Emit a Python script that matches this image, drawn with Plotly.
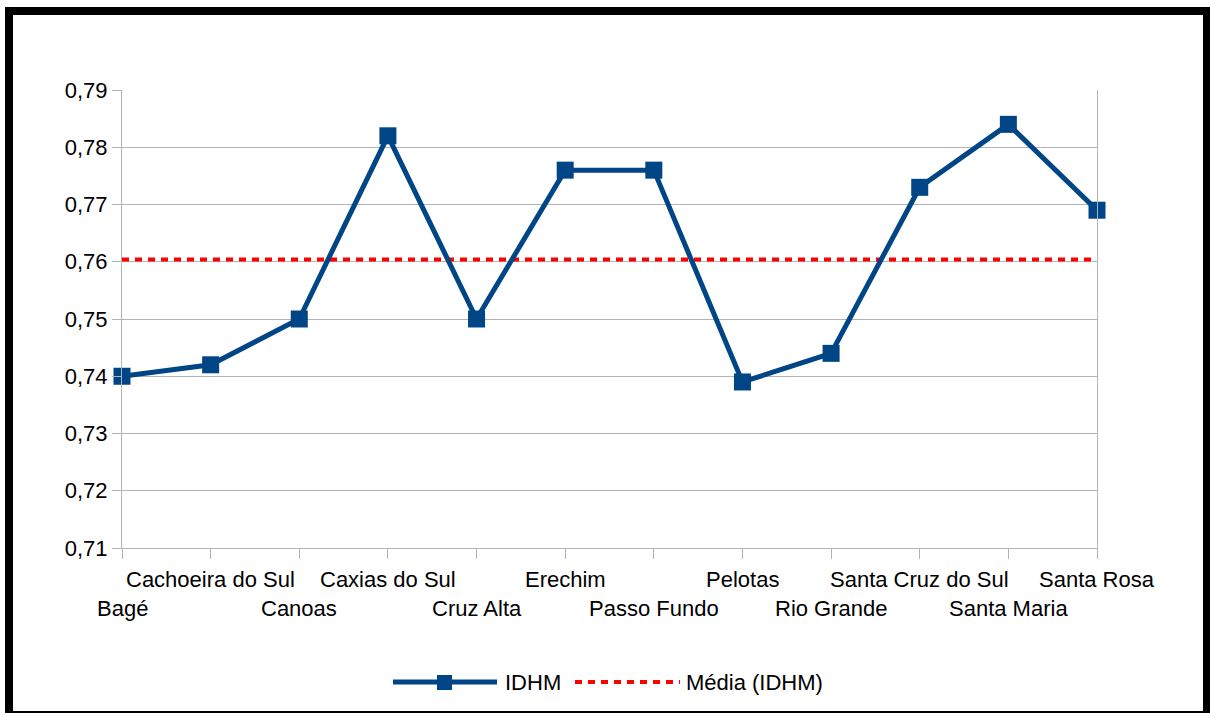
import plotly.graph_objects as go

categories = ["Bagé", "Cachoeira do Sul", "Canoas", "Caxias do Sul", "Cruz Alta",
              "Erechim", "Passo Fundo", "Pelotas", "Rio Grande",
              "Santa Cruz do Sul", "Santa Maria", "Santa Rosa"]
idhm = [0.740, 0.742, 0.750, 0.782, 0.750, 0.776, 0.776, 0.739, 0.744, 0.773, 0.784, 0.769]
media_idhm = 0.7604
y_ticks = [0.71, 0.72, 0.73, 0.74, 0.75, 0.76, 0.77, 0.78, 0.79]

W, H = 1210, 713
L, R, T, B = 122, 113, 90, 165
PW, PH = W - L - R, H - T - B
FONT = "Liberation Sans, Arial, sans-serif"
FS = 22
BLUE = "#004586"


def px(x):
    return (x - L) / PW


def py(y):
    return (H - B - y) / PH


xs = list(range(len(categories)))

fig = go.Figure()
fig.add_trace(go.Scatter(
    x=xs, y=[media_idhm] * len(categories), mode="lines", name="Média (IDHM)",
    line=dict(color="#ff0000", width=4, dash="7px,6px"), showlegend=False,
    hoverinfo="skip"))
fig.add_trace(go.Scatter(
    x=xs, y=idhm, mode="lines+markers", name="IDHM",
    line=dict(color=BLUE, width=5),
    marker=dict(symbol="square", size=17, color=BLUE),
    cliponaxis=False, showlegend=False))

shapes = []
annotations = []

# category labels, staggered in two rows
for i, c in enumerate(categories):
    yrow = 608 if i % 2 == 0 else 579
    annotations.append(dict(x=i, xref="x", y=py(yrow), yref="paper",
                            text=c, showarrow=False, xanchor="center",
                            yanchor="middle",
                            font=dict(family=FONT, size=FS, color="black")))

# custom legend
ly = py(682)
shapes.append(dict(type="line", xref="paper", yref="paper",
                   x0=px(393), x1=px(497), y0=ly, y1=ly,
                   line=dict(color=BLUE, width=5)))
shapes.append(dict(type="rect", xref="paper", yref="paper",
                   x0=px(437), x1=px(452), y0=py(675), y1=py(690),
                   line=dict(width=0), fillcolor=BLUE))
annotations.append(dict(x=px(503), xref="paper", y=ly, yref="paper",
                        text="IDHM", showarrow=False, xanchor="left",
                        yanchor="middle",
                        font=dict(family=FONT, size=FS, color="black")))
shapes.append(dict(type="line", xref="paper", yref="paper",
                   x0=px(575), x1=px(680), y0=ly, y1=ly,
                   line=dict(color="#ff0000", width=4, dash="7px,6px")))
annotations.append(dict(x=px(684), xref="paper", y=ly, yref="paper",
                        text="Média (IDHM)", showarrow=False, xanchor="left",
                        yanchor="middle",
                        font=dict(family=FONT, size=FS, color="black")))

# black frame around the figure
for (x0, y0, x1, y1) in [(5, 7, 1210, 15), (5, 7, 13, 713),
                         (1203, 7, 1210, 713), (5, 711, 1210, 713)]:
    shapes.append(dict(type="rect", xref="paper", yref="paper",
                       x0=px(x0), x1=px(x1), y0=py(y0), y1=py(y1),
                       line=dict(width=0), fillcolor="black", layer="above"))

fig.update_layout(
    width=W, height=H,
    margin=dict(l=L, r=R, t=T, b=B, pad=0),
    paper_bgcolor="white", plot_bgcolor="white",
    separators=",.",
    font=dict(family=FONT, size=FS, color="black"),
    xaxis=dict(range=[0, len(categories) - 1], tickvals=xs, ticktext=[""] * len(xs),
               showgrid=False, zeroline=False, showline=True, linecolor="#b3b3b3",
               linewidth=1, ticks="outside", ticklen=10, tickcolor="#b3b3b3",
               tickwidth=1, fixedrange=True),
    yaxis=dict(range=[0.71, 0.79], tickvals=y_ticks, tickformat=".2f",
               showgrid=True, gridcolor="#b3b3b3", gridwidth=1, zeroline=False,
               showline=True, mirror=True, linecolor="#b3b3b3", linewidth=1,
               ticks="outside", ticklen=9, tickcolor="#b3b3b3", tickwidth=1,
               tickfont=dict(family=FONT, size=FS, color="black"), fixedrange=True),
    shapes=shapes, annotations=annotations, showlegend=False,
)

fig.write_html("out.html", config={"displayModeBar": False},
               post_script="document.body.style.margin='0';document.body.style.padding='0';")
